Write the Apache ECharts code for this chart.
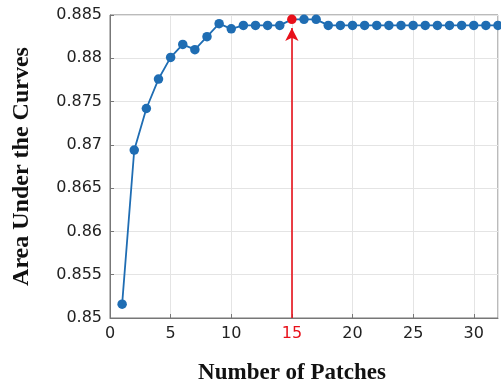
<!DOCTYPE html>
<html lang="en">
<head>
    <meta charset="UTF-8">
    <script type="text/javascript" src="https://cdn.jsdelivr.net/npm/echarts@6/dist/echarts.min.js"></script>
    <title>AUC vs patches</title>
    <style type="text/css">
        body { margin: 0; background: #fff; }
        #chart { width: 501px; height: 385px; }
    </style>
</head>
<body>
    <div id="chart"></div>
    <script type="text/javascript">
        let patches = [1, 2, 3, 4, 5, 6, 7, 8, 9, 10, 11, 12, 13, 14, 15, 16,
            17, 18, 19, 20, 21, 22, 23, 24, 25, 26, 27, 28, 29, 30, 31, 32]
        let auc = [0.8516, 0.8694, 0.8742, 0.8776, 0.8801, 0.8816, 0.8810, 0.8825,
            0.8840, 0.8834, 0.8838, 0.8838, 0.8838, 0.8838, 0.8845, 0.8845,
            0.8845, 0.8838, 0.8838, 0.8838, 0.8838, 0.8838, 0.8838, 0.8838,
            0.8838, 0.8838, 0.8838, 0.8838, 0.8838, 0.8838, 0.8838, 0.8838]
        let best = 15 // chosen number of patches

        let blue = '#1f6db3'
        let red = '#e8101a'

        let points = []
        for (let i = 0; i < patches.length; i++) {
            points.push([patches[i], auc[i]])
        }
        let bestVal = auc[patches.indexOf(best)]

        var myChart = echarts.init(document.getElementById('chart'))
        var option = {
            animation: false,
            grid: {
                left: 110, right: 3, top: 15, bottom: 67,
                outerBoundsMode: 'none',
                show: true, borderColor: '#777', borderWidth: 1
            },
            xAxis: {
                type: 'value',
                min: 0, max: 32, interval: 5,
                name: 'Number of Patches',
                nameLocation: 'middle',
                nameGap: 44,
                nameTextStyle: {
                    fontFamily: 'Liberation Serif', fontWeight: 'bold',
                    fontSize: 23, color: '#111', padding: [0, 24, 0, 0]
                },
                axisLine: { lineStyle: { color: '#777' } },
                axisTick: { inside: true, length: 4, lineStyle: { color: '#777' } },
                splitLine: { show: true, lineStyle: { color: '#e4e4e4' } },
                axisLabel: {
                    fontFamily: 'DejaVu Sans', fontSize: 16, color: '#222', margin: 8,
                    showMaxLabel: false,
                    formatter: v => v === best ? '{r|' + v + '}' : '' + v,
                    rich: { r: { color: red, fontFamily: 'DejaVu Sans', fontSize: 16 } }
                }
            },
            yAxis: {
                type: 'value',
                min: 0.85, max: 0.885, interval: 0.005,
                name: 'Area Under the Curves',
                nameLocation: 'middle',
                nameGap: 76,
                nameTextStyle: {
                    fontFamily: 'Liberation Serif', fontWeight: 'bold',
                    fontSize: 24, color: '#111'
                },
                axisLine: { show: true, lineStyle: { color: '#777' } },
                axisTick: { show: true, inside: true, length: 4, lineStyle: { color: '#777' } },
                splitLine: { show: true, lineStyle: { color: '#e4e4e4' } },
                axisLabel: {
                    fontFamily: 'DejaVu Sans', fontSize: 16, color: '#222', margin: 8,
                    formatter: v => '' + (+v.toFixed(3))
                }
            },
            series: [{
                type: 'line',
                data: points,
                symbol: 'circle',
                symbolSize: 9.5,
                lineStyle: { color: blue, width: 1.8 },
                itemStyle: {
                    color: p => p.value[0] === best ? red : blue
                },
                markLine: {
                    silent: true,
                    animation: false,
                    label: { show: false },
                    lineStyle: { color: red, width: 1.6, type: 'solid' },
                    symbolSize: [10, 13],
                    data: [[
                        { coord: [best, 0.85], symbol: 'none' },
                        { coord: [best, bestVal - 0.001], symbol: 'arrow' }
                    ]]
                },
                z: 3
            }]
        }
        myChart.setOption(option)
    </script>
</body>
</html>
